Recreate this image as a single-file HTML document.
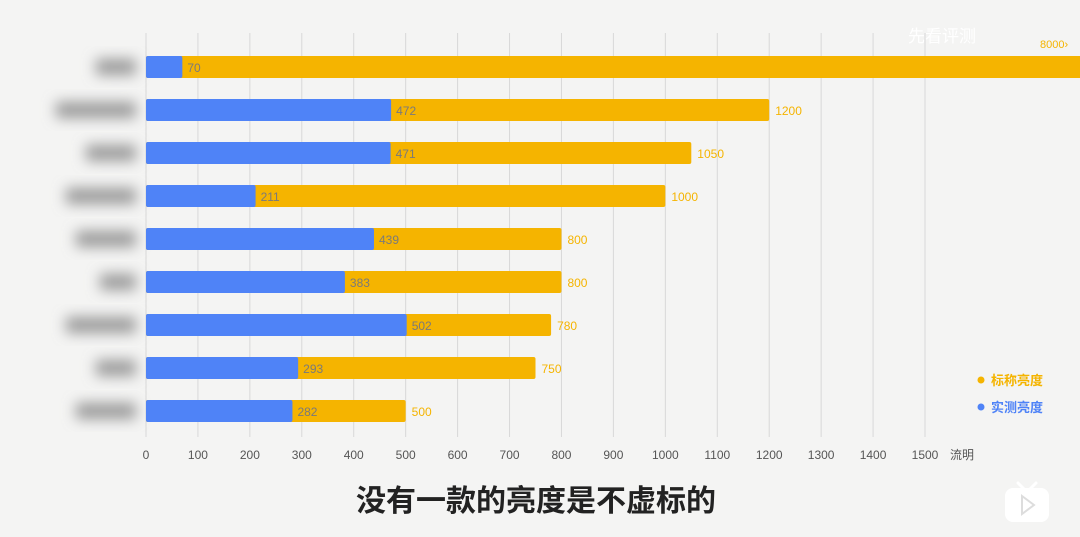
<!DOCTYPE html>
<html><head><meta charset="utf-8">
<style>
html,body{margin:0;padding:0;background:#f4f4f3;}
body{width:1080px;height:537px;overflow:hidden;position:relative;font-family:"Liberation Sans","Noto Sans CJK SC",sans-serif;}
svg{position:absolute;left:0;top:0;}
</style></head>
<body>
<svg id="chart" width="1080" height="537" viewBox="0 0 1080 537" font-family="Liberation Sans, Noto Sans CJK SC, sans-serif">
<defs><filter id="blur" x="-50%" y="-80%" width="200%" height="260%"><feGaussianBlur stdDeviation="7"/></filter></defs>
<g id="grid"></g>
<g id="bars"></g>
<g id="ticks"></g>
<text x="950" y="459" font-size="12" fill="#555">流明</text>
<g>
<circle cx="981" cy="380" r="3.5" fill="#f5b400"/>
<text x="991" y="385" font-size="13" font-weight="bold" fill="#f5b400">标称亮度</text>
<circle cx="981" cy="407" r="3.5" fill="#4f83f7"/>
<text x="991" y="412" font-size="13" font-weight="bold" fill="#4f83f7">实测亮度</text>
</g>
<text x="908" y="42" font-size="17" fill="#ffffff">先看评测</text>
<text x="1040" y="48" font-size="11" fill="#f5b400">8000›</text>
<text x="536" y="511" font-size="30" font-weight="bold" fill="#222" text-anchor="middle">没有一款的亮度是不虚标的</text>
<g>
<line x1="1018" y1="483" x2="1024" y2="489" stroke="#fff" stroke-width="3" stroke-linecap="round"/>
<line x1="1036" y1="483" x2="1030" y2="489" stroke="#fff" stroke-width="3" stroke-linecap="round"/>
<rect x="1005" y="488" width="44" height="34" rx="8" fill="#fff"/>
<path d="M1022 496 L1034 505 L1022 514 Z" fill="none" stroke="#ddd" stroke-width="2"/>
</g>
</svg>
<script>
const categories=["A","B","C","D","E","F","G","H","I"];
const claimed=[8000,1200,1050,1000,800,800,780,750,500];
const measured=[70,472,471,211,439,383,502,293,282];
const tickValues=[0,100,200,300,400,500,600,700,800,900,1000,1100,1200,1300,1400,1500];
const labelWidths=[40,80,50,70,60,36,70,40,60];
const NS="http://www.w3.org/2000/svg";
const x=v=>146+v*(925-146)/1500;
const yc=i=>67+i*43;
const grid=document.getElementById('grid'),bars=document.getElementById('bars'),ticks=document.getElementById('ticks');
function mk(t,a){const e=document.createElementNS(NS,t);for(const k in a)e.setAttribute(k,a[k]);return e;}
tickValues.forEach(v=>{
  const l=mk('line',{x1:x(v),x2:x(v),y1:33,y2:437,stroke:'#d8d8d8','stroke-width':1});
  
  
  grid.appendChild(l);
  const t=mk('text',{x:x(v),y:459,'font-size':12,fill:'#555','text-anchor':'middle'});
  t.textContent=v;
  
  
  ticks.appendChild(t);
});
categories.forEach((c,i)=>{
  const y=yc(i);
  const lb=mk('rect',{x:136-labelWidths[i],y:y-8,width:labelWidths[i],height:16,fill:'#999',filter:'url(#blur)'});
  
  
  bars.appendChild(lb);
  const o=mk('rect',{x:x(0),y:y-11,width:Math.min(x(claimed[i]),1100)-x(0),height:22,fill:'#f5b400',rx:2});
  
  
  bars.appendChild(o);
  const b=mk('rect',{x:x(0),y:y-11,width:x(measured[i])-x(0),height:22,fill:'#4f83f7',rx:2});
  
  
  bars.appendChild(b);
  const mt=mk('text',{x:x(measured[i])+5,y:y+5,'font-size':12,fill:'#7a7a7a'});
  mt.textContent=measured[i];
  
  
  bars.appendChild(mt);
  if(x(claimed[i])<1040){
    const ct=mk('text',{x:x(claimed[i])+6,y:y+5,'font-size':12,fill:'#f5b400'});
    ct.textContent=claimed[i];
    
    
    bars.appendChild(ct);
  }
});
</script>
</body></html>
